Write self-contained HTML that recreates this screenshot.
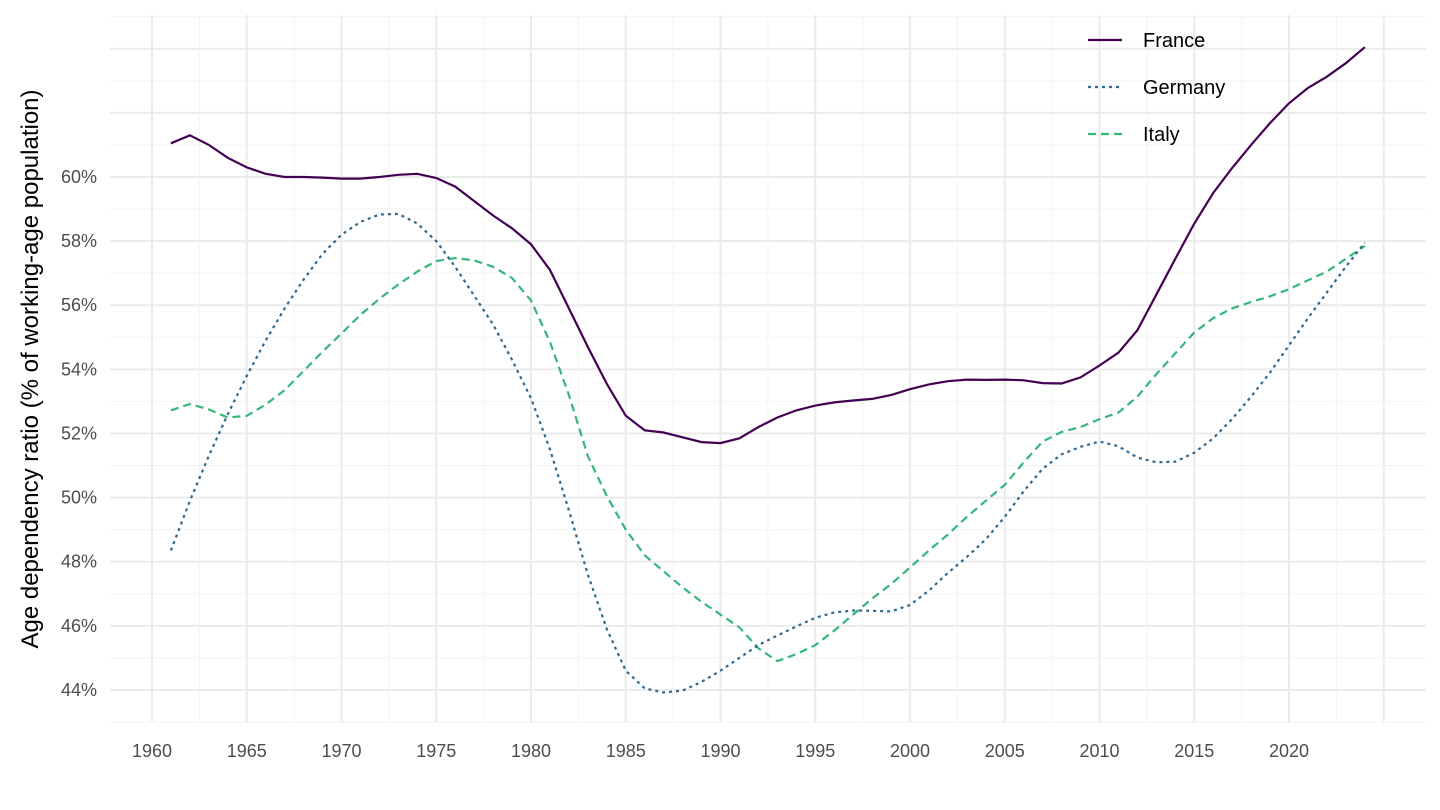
<!DOCTYPE html>
<html><head><meta charset="utf-8"><style>html,body{margin:0;padding:0;background:#fff}svg{display:block}</style></head>
<body>
<svg id="c" width="1440" height="810" xmlns="http://www.w3.org/2000/svg" font-family="Liberation Sans, Arial, sans-serif"></svg>
<script>
const X=y=>152+(y-1960)*18.95, Y=v=>177-(v-60)*32.06;
const F=[61.05,61.3,61.0,60.6,60.3,60.1,60.0,60.0,59.98,59.95,59.95,60.0,60.07,60.1,59.97,59.7,59.25,58.8,58.4,57.9,57.1,55.9,54.7,53.55,52.55,52.1,52.03,51.88,51.73,51.7,51.85,52.2,52.5,52.72,52.87,52.97,53.03,53.08,53.2,53.38,53.53,53.63,53.68,53.67,53.68,53.66,53.57,53.56,53.75,54.12,54.52,55.22,56.33,57.45,58.55,59.5,60.28,61.0,61.68,62.3,62.78,63.13,63.55,64.05];
const G=[48.35,49.9,51.3,52.6,53.8,54.9,55.9,56.8,57.6,58.2,58.6,58.83,58.85,58.55,58.0,57.2,56.3,55.4,54.3,53.1,51.5,49.6,47.6,45.9,44.6,44.05,43.92,43.98,44.25,44.6,45.0,45.4,45.7,45.98,46.25,46.42,46.48,46.47,46.45,46.65,47.1,47.65,48.15,48.7,49.4,50.2,50.9,51.35,51.58,51.75,51.6,51.25,51.1,51.12,51.4,51.85,52.45,53.15,53.9,54.75,55.6,56.4,57.2,57.95];
const I=[52.72,52.92,52.75,52.5,52.55,52.9,53.35,53.95,54.55,55.12,55.7,56.2,56.65,57.05,57.38,57.47,57.4,57.2,56.85,56.15,54.85,53.2,51.3,50.05,49.0,48.2,47.7,47.2,46.75,46.35,45.95,45.3,44.9,45.12,45.4,45.85,46.35,46.85,47.3,47.82,48.35,48.85,49.4,49.9,50.4,51.1,51.75,52.05,52.2,52.45,52.65,53.15,53.85,54.5,55.15,55.6,55.9,56.1,56.28,56.5,56.78,57.05,57.45,57.85];
let s='';
const L=110,R=1426,T=15,B=722;
for(let v=43;v<=65;v++){const y=Y(v);s+=`<line x1="${L}" x2="${R}" y1="${y}" y2="${y}" stroke="${v%2?'#f3f3f3':'#ebebeb'}" stroke-width="${v%2?1:2}"/>`;}
for(let yr=1957.5;yr<=2027.5;yr+=2.5){const x=X(yr);if(x<L-1||x>R+1)continue;const maj=yr%5==0;s+=`<line x1="${x}" x2="${x}" y1="${T}" y2="${B}" stroke="${maj?'#ebebeb':'#f3f3f3'}" stroke-width="${maj?2:1}"/>`;}
for(let v=44;v<=60;v+=2)s+=`<text x="97" y="${Y(v)+6}" text-anchor="end" font-size="18" fill="#4d4d4d">${v}%</text>`;
for(let yr=1960;yr<=2020;yr+=5)s+=`<text x="${X(yr)}" y="757" text-anchor="middle" font-size="18" fill="#4d4d4d">${yr}</text>`;
const p=d=>d.map((v,i)=>(i?'L':'M')+X(1961+i).toFixed(1)+','+Y(v).toFixed(1)).join('');
s+=`<path d="${p(I)}" fill="none" stroke="#35b779" stroke-width="2.2" stroke-dasharray="8,5"/>`;
s+=`<path d="${p(G)}" fill="none" stroke="#31688e" stroke-width="2.2" stroke-dasharray="3,4"/>`;
s+=`<path d="${p(F)}" fill="none" stroke="#440154" stroke-width="2.2"/>`;
s+=`<line x1="1088" x2="1122" y1="40" y2="40" stroke="#440154" stroke-width="2.2"/>`;
s+=`<line x1="1088" x2="1122" y1="87" y2="87" stroke="#31688e" stroke-width="2.2" stroke-dasharray="3,4"/>`;
s+=`<line x1="1088" x2="1122" y1="134" y2="134" stroke="#35b779" stroke-width="2.2" stroke-dasharray="8,5"/>`;
[['France',40],['Germany',87],['Italy',134]].forEach(([t,y])=>s+=`<text x="1143" y="${y+7}" font-size="20" fill="#000">${t}</text>`);
s+=`<text transform="translate(38,369) rotate(-90)" text-anchor="middle" font-size="24" fill="#000">Age dependency ratio (% of working-age population)</text>`;
document.getElementById('c').innerHTML=s;
</script>
</body></html>
